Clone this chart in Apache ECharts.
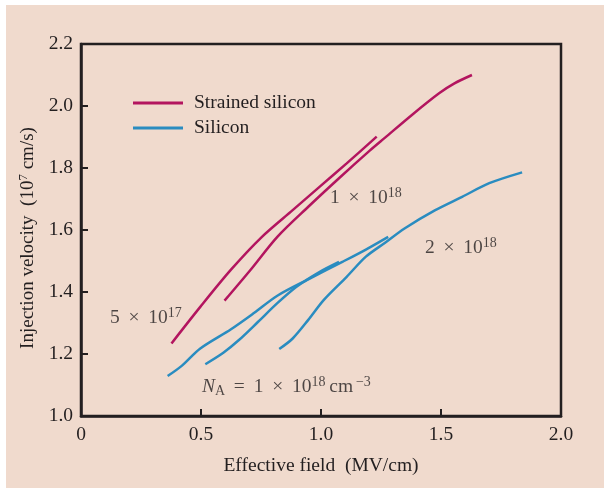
<!DOCTYPE html>
<html>
<head>
<meta charset="utf-8">
<script src="https://cdn.jsdelivr.net/npm/echarts@6/dist/echarts.min.js"></script>
<style>
  html, body { margin: 0; padding: 0; background: #ffffff; }
  #wrap { position: relative; width: 604px; height: 493px; }
  #panel { position: absolute; left: 6px; top: 5px; width: 598px; height: 483px; background: #f0dacd; }
  #chart { position: absolute; left: 0; top: 0; width: 604px; height: 493px; }
</style>
</head>
<body>
<div id="wrap"><div id="panel"></div><div id="chart"></div></div>
<script>
// Injection velocity vs effective field, strained silicon vs silicon, for several doping levels
const xTicks = [0, 0.5, 1.0, 1.5, 2.0];
const yTicks = [1.0, 1.2, 1.4, 1.6, 1.8, 2.0, 2.2];

// Strained silicon curves [field MV/cm, velocity 1e7 cm/s]
const strained5e17 = [[0.377,1.234],[0.497,1.352],[0.625,1.472],[0.754,1.578],[0.882,1.664],[0.995,1.740],[1.107,1.815],[1.232,1.901]];
const strained1e18 = [[0.598,1.372],[0.706,1.471],[0.818,1.578],[0.947,1.675],[1.075,1.767],[1.203,1.856],[1.267,1.898],[1.380,1.972],[1.492,2.041],[1.556,2.073],[1.629,2.100]];

// Silicon curves
const silicon5e17 = [[0.361,1.129],[0.417,1.160],[0.497,1.218],[0.625,1.280],[0.722,1.333],[0.818,1.388],[0.947,1.441],[1.091,1.498],[1.187,1.537],[1.280,1.578]];
const silicon1e18 = [[0.518,1.167],[0.593,1.204],[0.658,1.245],[0.738,1.304],[0.818,1.364],[0.898,1.417],[0.995,1.465],[1.075,1.497]];
const silicon2e18 = [[0.826,1.216],[0.882,1.250],[0.947,1.310],[1.011,1.374],[1.107,1.449],[1.187,1.514],[1.267,1.559],[1.348,1.605],[1.476,1.664],[1.588,1.707],[1.701,1.751],[1.838,1.786]];

// Curve labels: [x, y, text]
const curveLabels = [
  [1.0375, 1.703, '{n|1 \u2009×\u2009 10}{sup|18}'],
  [1.433, 1.542, '{n|2 \u2009×\u2009 10}{sup|18}'],
  [0.121, 1.316, '{n|5 \u2009×\u2009 10}{sup|17}'],
  [0.504, 1.094, '{it|N}{sub|A}{n| \u2009=\u2009 1 \u2009×\u2009 10}{sup|18}{n|\u2009cm}{sup|\u2009−3}']
];

const SERIF = '"Liberation Serif", "DejaVu Serif", serif';
const INK = '#231f20';
const MAGENTA = '#b3155f';
const BLUE = '#2a8cc0';

const richText = {
  n: { fontFamily: SERIF, fontSize: 19.5, color: INK },
  it: { fontFamily: SERIF, fontSize: 19.5, color: INK, fontStyle: 'italic' },
  sup: { fontFamily: SERIF, fontSize: 14, color: INK, padding: [0, 0, 9, 0] },
  sub: { fontFamily: SERIF, fontSize: 14, color: INK, padding: [9, 0, 0, 0] }
};

const titleRich = {
  n: { fontFamily: SERIF, fontSize: 19, color: INK },
  sup: { fontFamily: SERIF, fontSize: 13, color: INK, padding: [0, 0, 9, 0] }
};

function lineSeries(name, data, color) {
  return {
    name: name,
    type: 'line',
    data: data,
    smooth: 0.3,
    showSymbol: false,
    symbol: 'none',
    lineStyle: { color: color, width: 2.5 },
    itemStyle: { color: color },
    z: 3
  };
}

const chart = echarts.init(document.getElementById('chart'), null, { renderer: 'canvas' });

chart.setOption({
  backgroundColor: 'transparent',
  animation: false,
  grid: {
    left: 81, right: 43, top: 44, bottom: 77,
    show: true, borderColor: INK, borderWidth: 2.5, backgroundColor: 'transparent'
  },
  legend: {
    data: ['Strained silicon', 'Silicon'],
    orient: 'vertical',
    left: 128, top: 88,
    icon: 'rect',
    itemWidth: 50, itemHeight: 3,
    itemGap: 5,
    textStyle: { fontFamily: SERIF, fontSize: 19.5, color: INK, padding: [0, 0, 0, 6] }
  },
  xAxis: {
    type: 'value', min: 0, max: 2, interval: 0.5,
    name: 'Effective field  (MV/cm)',
    nameLocation: 'middle', nameGap: 40,
    nameTextStyle: { fontFamily: SERIF, fontSize: 19.5, color: INK },
    axisLine: { show: true, lineStyle: { color: INK, width: 2.5 } },
    axisTick: { show: true, inside: true, length: 7, lineStyle: { color: INK, width: 2 } },
    axisLabel: {
      margin: 9, fontFamily: SERIF, fontSize: 19.5, color: INK,
      formatter: v => (v === 0 ? '0' : v.toFixed(1))
    },
    splitLine: { show: false }
  },
  yAxis: {
    type: 'value', min: 1.0, max: 2.2, interval: 0.2,
    name: '{n|Injection velocity  (10}{sup|7}{n| cm/s)}',
    nameLocation: 'middle', nameGap: 42, nameRotate: 90,
    nameTextStyle: { rich: titleRich, padding: [0, 16, 0, 0] },
    axisLine: { show: true, lineStyle: { color: INK, width: 2.5 } },
    axisTick: { show: true, inside: true, length: 7, lineStyle: { color: INK, width: 2 } },
    axisLabel: {
      margin: 8, fontFamily: SERIF, fontSize: 19.5, color: INK,
      formatter: v => v.toFixed(1)
    },
    splitLine: { show: false }
  },
  series: [
    lineSeries('Strained silicon', strained5e17, MAGENTA),
    lineSeries('Strained silicon', strained1e18, MAGENTA),
    lineSeries('Silicon', silicon5e17, BLUE),
    lineSeries('Silicon', silicon1e18, BLUE),
    lineSeries('Silicon', silicon2e18, BLUE),
    {
      name: 'labels',
      type: 'scatter',
      symbolSize: 0,
      silent: true,
      data: curveLabels.map(d => ({ value: [d[0], d[1]], text: d[2] })),
      label: {
        show: true,
        position: 'right',
        distance: 0,
        formatter: p => p.data.text,
        rich: richText
      },
      z: 4
    }
  ]
});
</script>
</body>
</html>
